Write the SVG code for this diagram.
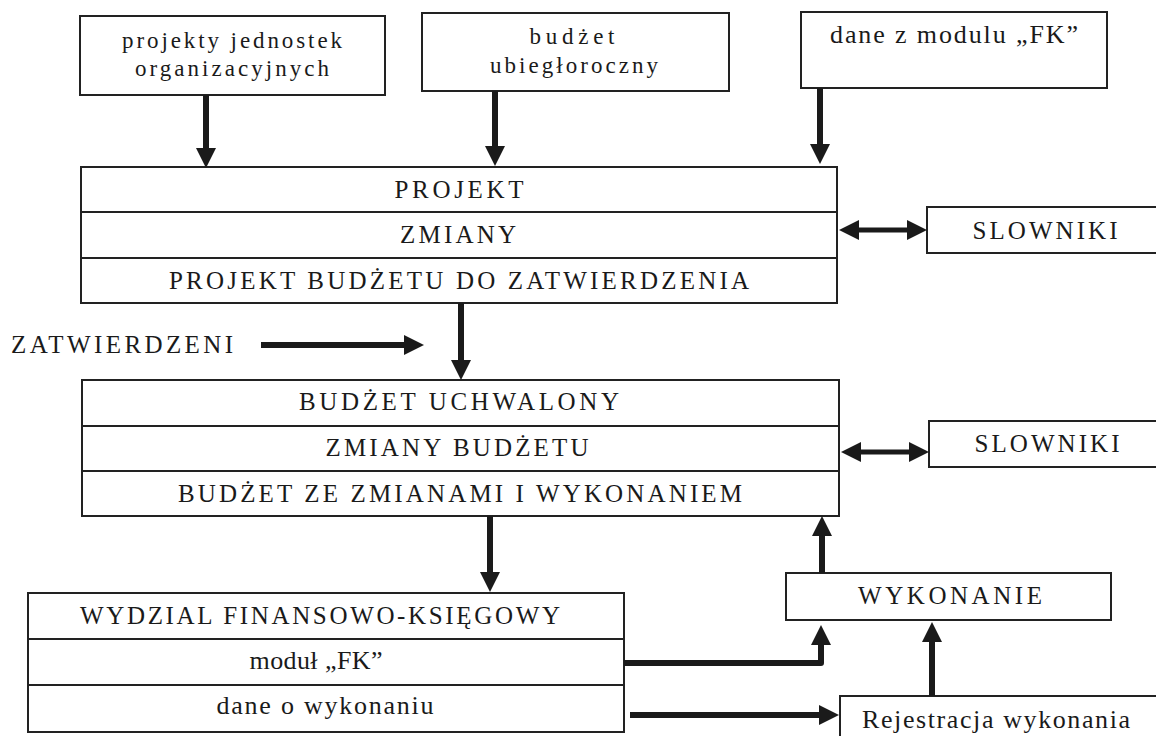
<svg xmlns="http://www.w3.org/2000/svg" width="1156" height="736" viewBox="0 0 1156 736">
<style>
.box{fill:#fff;stroke:#222;stroke-width:2}
.div{stroke:#222;stroke-width:2;fill:none}
.cap{font-family:'Liberation Serif','Times New Roman',serif;font-size:25px;fill:#1a1a1a;text-anchor:middle}
.low{font-family:'Liberation Serif','Times New Roman',serif;font-size:26px;fill:#1a1a1a;text-anchor:middle}
.low2{font-family:'Liberation Serif','Times New Roman',serif;font-size:23px;fill:#1a1a1a;text-anchor:middle}
.arr{stroke:#1a1a1a;stroke-width:6;fill:none;marker-end:url(#ah)}
.dbl{stroke:#1a1a1a;stroke-width:5;fill:none;marker-end:url(#ah);marker-start:url(#ah)}
</style>
<defs>
<marker id="ah" markerUnits="userSpaceOnUse" markerWidth="20" markerHeight="20" refX="1" refY="10" orient="auto-start-reverse" viewBox="0 0 20 20">
<path d="M0,0 L20,10 L0,20 Z" fill="#1a1a1a"/>
</marker>
</defs>
<rect width="1156" height="736" fill="#fff"/>

<g id="src-projekty">
<rect class="box" x="80" y="16" width="305" height="79"/>
<text class="low2" x="232" y="48" textLength="220" lengthAdjust="spacing">projekty jednostek</text>
<text class="low2" x="232" y="76" textLength="194" lengthAdjust="spacing">organizacyjnych</text>
</g>
<g id="src-budzet">
<rect class="box" x="422" y="13" width="307" height="78"/>
<text class="low2" x="572" y="44" textLength="85" lengthAdjust="spacing">budżet</text>
<text class="low2" x="574" y="73" textLength="168" lengthAdjust="spacing">ubiegłoroczny</text>
</g>
<g id="src-fk">
<rect class="box" x="801" y="12" width="306" height="76"/>
<text class="low" x="954" y="43" textLength="248" lengthAdjust="spacing">dane z modulu „FK”</text>
</g>

<g id="projekt">
<rect class="box" x="81" y="167" width="756" height="136"/>
<line class="div" x1="81" y1="212" x2="837" y2="212"/>
<line class="div" x1="81" y1="258" x2="837" y2="258"/>
<text class="cap" x="459" y="198" textLength="129" lengthAdjust="spacing">PROJEKT</text>
<text class="cap" x="458" y="243" textLength="116" lengthAdjust="spacing">ZMIANY</text>
<text class="cap" x="459" y="289" textLength="580" lengthAdjust="spacing">PROJEKT BUDŻETU DO ZATWIERDZENIA</text>
</g>
<g id="slowniki1">
<rect class="box" x="927" y="207" width="245" height="46"/>
<text class="cap" x="1045" y="239" textLength="145" lengthAdjust="spacing">SLOWNIKI</text>
</g>
<g id="zatwierdzeni">
<text class="cap" x="122" y="353" textLength="222" lengthAdjust="spacing">ZATWIERDZENI</text>
</g>

<g id="budzet-uchwalony">
<rect class="box" x="82" y="380" width="757" height="136"/>
<line class="div" x1="82" y1="426" x2="839" y2="426"/>
<line class="div" x1="82" y1="471" x2="839" y2="471"/>
<text class="cap" x="459" y="410" textLength="320" lengthAdjust="spacing">BUDŻET UCHWALONY</text>
<text class="cap" x="457" y="456" textLength="263" lengthAdjust="spacing">ZMIANY BUDŻETU</text>
<text class="cap" x="460" y="502" textLength="564" lengthAdjust="spacing">BUDŻET ZE ZMIANAMI I WYKONANIEM</text>
</g>
<g id="slowniki2">
<rect class="box" x="929" y="421" width="245" height="46"/>
<text class="cap" x="1047" y="452" textLength="145" lengthAdjust="spacing">SLOWNIKI</text>
</g>

<g id="wydzial">
<rect class="box" x="28" y="593" width="596" height="139"/>
<line class="div" x1="28" y1="639" x2="624" y2="639"/>
<line class="div" x1="28" y1="685" x2="624" y2="685"/>
<text class="cap" x="320" y="624" textLength="480" lengthAdjust="spacing">WYDZIAL FINANSOWO-KSIĘGOWY</text>
<text class="low" x="316" y="669" textLength="133" lengthAdjust="spacing">moduł „FK”</text>
<text class="low" x="325" y="714" textLength="217" lengthAdjust="spacing">dane o wykonaniu</text>
</g>
<g id="wykonanie">
<rect class="box" x="786" y="573" width="325" height="47"/>
<text class="cap" x="950" y="604" textLength="184" lengthAdjust="spacing">WYKONANIE</text>
</g>
<g id="rejestracja">
<rect class="box" x="840" y="696" width="330" height="60"/>
<text class="low" x="996" y="728" textLength="268" lengthAdjust="spacing">Rejestracja wykonania</text>
</g>

<g id="connectors">
<line class="arr" x1="206" y1="95" x2="206" y2="149"/>
<line class="arr" x1="495" y1="91" x2="495" y2="147"/>
<line class="arr" x1="820" y1="88" x2="820" y2="145"/>
<line class="dbl" x1="858" y1="230" x2="908" y2="230"/>
<line class="arr" x1="461" y1="303" x2="461" y2="361"/>
<line class="arr" x1="261" y1="345" x2="405" y2="345"/>
<line class="dbl" x1="860" y1="452" x2="910" y2="452"/>
<line class="arr" x1="490" y1="516" x2="490" y2="573"/>
<line class="arr" x1="822" y1="573" x2="822" y2="535"/>
<path class="arr" d="M624,663 H821 V644" stroke-linejoin="round"/>
<line class="arr" x1="630" y1="715" x2="820" y2="715"/>
<line class="arr" x1="932" y1="696" x2="932" y2="641"/>
</g>
</svg>
